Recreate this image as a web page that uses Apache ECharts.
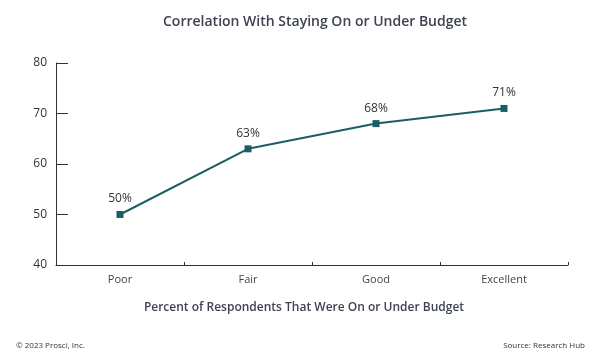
<!DOCTYPE html>
<html><head><meta charset="utf-8">
<script src="https://cdn.jsdelivr.net/npm/echarts@6/dist/echarts.min.js"></script>
<style>html,body{margin:0;padding:0;background:#fff}#c{width:601px;height:361px}</style>
</head><body><div id="c"></div>
<script>
var categories = ["Poor", "Fair", "Good", "Excellent"];
var values = [50, 63, 68, 71];
var yTicks = [40, 50, 60, 70, 80];
var title = "Correlation With Staying On or Under Budget";
var xName = "Percent of Respondents That Were On or Under Budget";
var footerLeft = "\u00a9 2023 Prosci, Inc.";
var footerRight = "Source: Research Hub";

var font = "'Open Sans', 'Noto Sans', sans-serif";
var chart = echarts.init(document.getElementById('c'));
chart.setOption({
  animation: false,
  backgroundColor: '#fff',
  title: {
    text: title, left: 158, top: 10,
    textStyle: { fontFamily: font, fontSize: 14, fontWeight: 600, color: '#3d4350' }
  },
  grid: { left: 56, right: 33, top: 63, bottom: 96 },
  xAxis: {
    type: 'category', data: categories, boundaryGap: true,
    name: xName, nameLocation: 'middle', nameGap: 37,
    nameTextStyle: { fontFamily: font, fontSize: 12, fontWeight: 600, color: '#3d4350', padding: [0, 16, 0, 0] },
    axisLine: { lineStyle: { color: '#333', width: 1 } },
    axisTick: { show: true, inside: true, length: 3, alignWithLabel: false, lineStyle: { color: '#333' } },
    axisLabel: { fontFamily: font, fontSize: 11, color: '#444', margin: 9 }
  },
  yAxis: {
    type: 'value', min: yTicks[0], max: yTicks[yTicks.length - 1], interval: 10,
    axisLine: { show: true, lineStyle: { color: '#333', width: 1 } },
    axisTick: { show: true, inside: true, length: 12, lineStyle: { color: '#333' } },
    splitLine: { show: false },
    axisLabel: { fontFamily: font, fontSize: 12, color: '#333', margin: 9 }
  },
  graphic: [
    { type: 'text', left: 16, top: 342, style: { text: footerLeft, font: "8px " + font, fill: '#333' } },
    { type: 'text', right: 16, top: 342, style: { text: footerRight, font: "8px " + font, fill: '#333' } }
  ],
  series: [{
    type: 'line', data: values,
    symbol: 'rect', symbolSize: 7,
    lineStyle: { color: '#1b5e63', width: 2 },
    itemStyle: { color: '#1b5e63' },
    label: {
      show: true, position: 'top', distance: 6,
      formatter: function (p) { return p.value + '%'; },
      fontFamily: font, fontSize: 12, color: '#333'
    }
  }]
});
</script></body></html>
